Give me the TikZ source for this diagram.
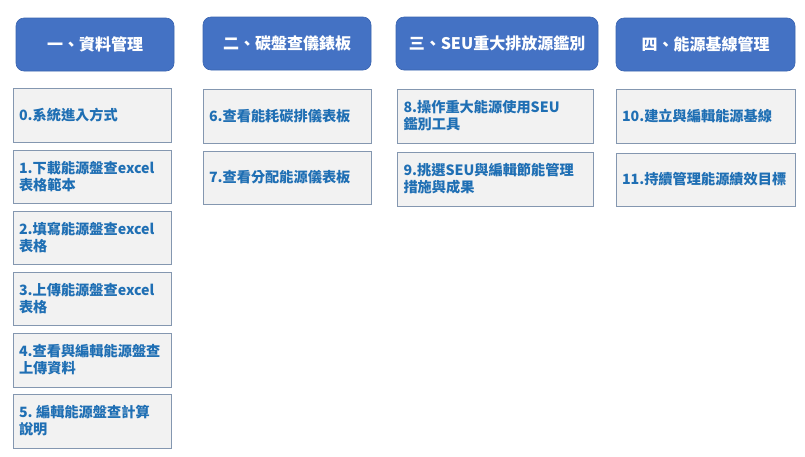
\documentclass[tikz,border=0pt]{standalone}
\usepackage{fontspec}
\setmainfont{Noto Sans CJK TC}
\definecolor{hdrblue}{HTML}{4472C4}
\definecolor{hdredge}{HTML}{3A64B0}
\definecolor{itemfill}{HTML}{F2F2F2}
\definecolor{itemedge}{HTML}{8497B0}
\definecolor{itemtext}{HTML}{1F6FB4}
\tikzset{
  hdr/.style={draw=hdredge, line width=0.6pt, fill=hdrblue, rounded corners=8pt,
    text=white, font=\fontsize{16}{19}\selectfont\bfseries, align=center,
    minimum height=53pt, inner sep=0pt},
  itembox/.style={draw=itemedge, line width=0.9pt, fill=itemfill, text=itemtext,
    font=\fontsize{14.2}{17}\selectfont\bfseries, align=left,
    inner xsep=6pt, inner ysep=0pt, minimum height=54pt},
  colA/.style={itembox, minimum width=158pt, text width=146pt},
  colB/.style={itembox, minimum width=168pt, text width=156pt},
  colC/.style={itembox, minimum width=196pt, text width=184pt},
  colD/.style={itembox, minimum width=179pt, text width=167pt},
}
\begin{document}
\begin{tikzpicture}[x=1pt,y=-1pt]
\useasboundingbox[fill=white] (0,0) rectangle (805,456);
% headers
\node[hdr, minimum width=158pt] (h1) at (95,44.5) {一、資料管理};
\node[hdr, minimum width=168pt] (h2) at (287,43.5) {二、碳盤查儀錶板};
\node[hdr, minimum width=202pt] (h3) at (497,43.5) {三、SEU重大排放源鑑別};
\node[hdr, minimum width=179pt] (h4) at (705.5,44.5) {四、能源基線管理};
% column 1
\node[colA] (b0) at (92,115) {0.系統進入方式};
\node[colA, minimum height=53pt] (b1) at (92,176.5) {1.下載能源盤查excel\\表格範本};
\node[colA, minimum height=53pt] (b2) at (92,237.5) {2.填寫能源盤查excel\\表格};
\node[colA, minimum height=53pt] (b3) at (92,298.5) {3.上傳能源盤查excel\\表格};
\node[colA] (b4) at (92,360) {4.查看與編輯能源盤查\\上傳資料};
\node[colA] (b5) at (92,421) {5.\hspace{3.5pt}編輯能源盤查計算\\說明};
% column 2
\node[colB] (b6) at (287,116) {6.查看能耗碳排儀表板};
\node[colB, minimum height=53pt] (b7) at (287,177.5) {7.查看分配能源儀表板};
% column 3
\node[colC] (b8) at (495.5,116) {8.操作重大能源使用SEU\\鑑別工具};
\node[colC] (b9) at (495.5,179) {9.挑選SEU與編輯節能管理\\措施與成果};
% column 4
\node[colD] (b10) at (705.5,116) {10.建立與編輯能源基線};
\node[colD, minimum height=53pt] (b11) at (705.5,179.5) {11.持續管理能源績效目標};
\end{tikzpicture}
\end{document}
